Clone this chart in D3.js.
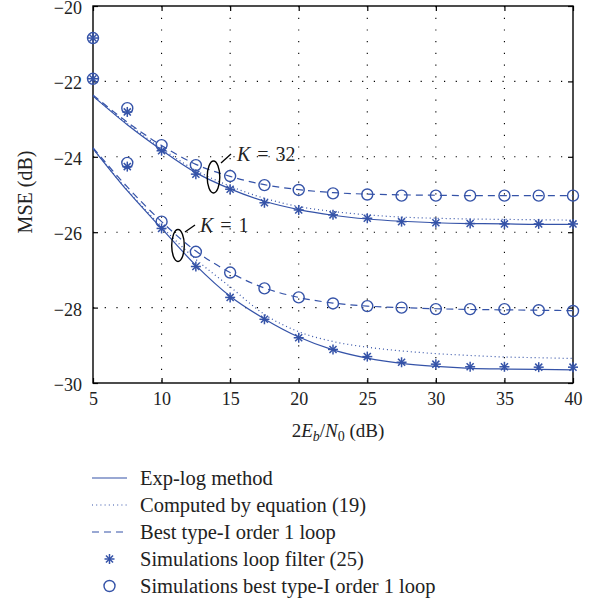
<!DOCTYPE html>
<html>
<head>
<meta charset="utf-8">
<script src="https://cdn.jsdelivr.net/npm/d3@7"></script>
<style>
  body { margin: 0; background: #fff; }
  svg text { font-family: "Liberation Serif", "DejaVu Serif", serif; fill: #222; }
</style>
</head>
<body>
<div id="chart"></div>
<script>
// values
const snr = [5, 7.5, 10, 12.5, 15, 17.5, 20, 22.5, 25, 27.5, 30, 32.5, 35, 37.5, 40];

// K = 32
const expLog32   = [-22.39, -23.15, -23.82, -24.42, -24.85, -25.18, -25.40, -25.55, -25.65, -25.71, -25.75, -25.77, -25.78, -25.79, -25.79];
const equation32 = [-22.39, -23.12, -23.78, -24.36, -24.78, -25.10, -25.32, -25.45, -25.54, -25.60, -25.63, -25.65, -25.66, -25.67, -25.68];
const bestLoop32 = [-22.36, -23.08, -23.70, -24.20, -24.52, -24.74, -24.87, -24.95, -24.99, -25.01, -25.02, -25.03, -25.03, -25.03, -25.03];
const simFilter32 = [-21.93, -22.81, -23.84, -24.46, -24.86, -25.22, -25.41, -25.54, -25.63, -25.72, -25.75, -25.77, -25.78, -25.78, -25.78];
const simBest32   = [-21.93, -22.71, -23.69, -24.22, -24.51, -24.75, -24.88, -24.97, -25.00, -25.03, -25.03, -25.03, -25.03, -25.03, -25.03];

// K = 1
const expLog1   = [-23.78, -24.90, -25.90, -26.88, -27.70, -28.30, -28.78, -29.12, -29.34, -29.48, -29.56, -29.61, -29.63, -29.64, -29.65];
const equation1 = [-23.78, -24.88, -25.85, -26.72, -27.45, -28.18, -28.64, -28.90, -29.05, -29.15, -29.22, -29.27, -29.31, -29.33, -29.35];
const bestLoop1 = [-23.76, -24.80, -25.72, -26.50, -27.07, -27.48, -27.73, -27.88, -27.96, -28.00, -28.03, -28.05, -28.06, -28.07, -28.08];
const simFilter1 = [-20.85, -24.26, -25.90, -26.91, -27.73, -28.31, -28.80, -29.11, -29.30, -29.45, -29.50, -29.57, -29.57, -29.58, -29.58];
const simBest1   = [-20.85, -24.16, -25.72, -26.52, -27.07, -27.49, -27.73, -27.89, -27.96, -28.00, -28.04, -28.04, -28.04, -28.07, -28.09];

const xTicks = [5, 10, 15, 20, 25, 30, 35, 40];
const yTicks = [-30, -28, -26, -24, -22, -20];

const legendLabels = [
  "Exp-log method",
  "Computed by equation (19)",
  "Best type-I order 1 loop",
  "Simulations loop filter (25)",
  "Simulations best type-I order 1 loop"
];

const blue = "#3553a8";
const margin = { top: 6, right: 24, bottom: 219, left: 93 };
const width = 573 - margin.left;
const height = 383 - margin.top;

const svg = d3.select("#chart").append("svg")
  .attr("width", 597).attr("height", 602)
  .append("g")
  .attr("transform", `translate(${margin.left},${margin.top})`);

const x = d3.scaleLinear().domain([5, 40]).range([0, width]);
const y = d3.scaleLinear().domain([-30, -20]).range([height, 0]);

// grid
svg.append("g").selectAll("line.gx")
  .data(xTicks.slice(1, -1)).enter().append("line")
  .attr("x1", d => x(d)).attr("x2", d => x(d))
  .attr("y1", 0).attr("y2", height)
  .style("stroke", "#000").style("stroke-width", 1.1)
  .style("stroke-dasharray", "1.2,10.5");
svg.append("g").selectAll("line.gy")
  .data(yTicks.slice(1, -1)).enter().append("line")
  .attr("y1", d => y(d)).attr("y2", d => y(d))
  .attr("x1", 0).attr("x2", width)
  .style("stroke", "#000").style("stroke-width", 1.1)
  .style("stroke-dasharray", "1.2,10.5");

// axes (ticks inward on all four sides)
const tk = 5;
svg.append("g").attr("transform", `translate(0,${height})`)
  .call(d3.axisBottom(x).tickValues(xTicks).tickSizeInner(-tk).tickSizeOuter(0).tickPadding(9))
  .call(g => g.selectAll("text").style("font-size", "18px").attr("dy", "0.72em"));
svg.append("g")
  .call(d3.axisTop(x).tickValues(xTicks).tickSizeInner(-tk).tickSizeOuter(0).tickFormat(""));
svg.append("g")
  .call(d3.axisLeft(y).tickValues(yTicks).tickSizeInner(-tk).tickSizeOuter(0).tickPadding(11)
    .tickFormat(d => d < 0 ? "\u2212" + Math.abs(d) : d))
  .call(g => g.selectAll("text").style("font-size", "18px").attr("dy", "0.42em"));
svg.append("g").attr("transform", `translate(${width},0)`)
  .call(d3.axisRight(y).tickValues(yTicks).tickSizeInner(-tk).tickSizeOuter(0).tickFormat(""));
svg.selectAll(".domain").remove();
svg.selectAll(".tick line").style("stroke", "#000").style("stroke-width", 1.2);
svg.append("rect").attr("width", width).attr("height", height)
  .style("fill", "none").style("stroke", "#000").style("stroke-width", 1.4);

// lines
const line = d3.line().x(d => x(d[0])).y(d => y(d[1])).curve(d3.curveMonotoneX);
const lineSets = [
  { v: expLog32, dash: null }, { v: expLog1, dash: null },
  { v: equation32, dash: "1,3" }, { v: equation1, dash: "1,3" },
  { v: bestLoop32, dash: "7,5" }, { v: bestLoop1, dash: "7,5" }
];
svg.selectAll("path.data-line")
  .data(lineSets).enter().append("path")
  .attr("class", "data-line")
  .attr("d", d => line(snr.map((s, i) => [s, d.v[i]])))
  .style("fill", "none").style("stroke", blue).style("stroke-width", 1.2)
  .style("stroke-dasharray", d => d.dash);

// markers
function star(g, r) {
  [0, 45, 90, 135].forEach(a => {
    const rad = a * Math.PI / 180;
    g.append("line")
      .attr("x1", -r * Math.cos(rad)).attr("y1", -r * Math.sin(rad))
      .attr("x2", r * Math.cos(rad)).attr("y2", r * Math.sin(rad))
      .style("stroke", blue).style("stroke-width", 1.5);
  });
}
[simFilter32, simFilter1].forEach(vals => {
  svg.append("g").selectAll("g").data(snr).enter().append("g")
    .attr("transform", (d, i) => `translate(${x(d)},${y(vals[i])})`)
    .each(function() { star(d3.select(this), 5); });
});
[simBest32, simBest1].forEach(vals => {
  svg.append("g").selectAll("circle").data(snr).enter().append("circle")
    .attr("cx", d => x(d)).attr("cy", (d, i) => y(vals[i])).attr("r", 5.5)
    .style("fill", "none").style("stroke", blue).style("stroke-width", 1.4);
});

// K annotations
function note(cx, cy, lx1, ly1, lx2, ly2, tx, ty, label) {
  svg.append("ellipse").attr("cx", cx).attr("cy", cy).attr("rx", 6.3).attr("ry", 16)
    .style("fill", "none").style("stroke", "#000").style("stroke-width", 1.4);
  svg.append("line").attr("x1", lx1).attr("y1", ly1).attr("x2", lx2).attr("y2", ly2)
    .style("stroke", "#000").style("stroke-width", 1.3);
  const t = svg.append("text").attr("x", tx).attr("y", ty)
    .style("font-size", "20px").style("word-spacing", "2px");
  t.append("tspan").style("font-style", "italic").text("K");
  t.append("tspan").text(" = " + label);
}
note(213.5 - 93, 177 - 6, 221 - 93, 163 - 6, 231 - 93, 154 - 6, 237 - 93, 161 - 6, "32");
note(178 - 93, 245.5 - 6, 185 - 93, 232 - 6, 195 - 93, 225 - 6, 200 - 93, 232 - 6, "1");

// axis labels
const xl = svg.append("text").attr("x", 338 - 93).attr("y", 437 - 6)
  .attr("text-anchor", "middle").style("font-size", "19px");
xl.append("tspan").text("2");
xl.append("tspan").style("font-style", "italic").text("E");
xl.append("tspan").attr("baseline-shift", "-25%").style("font-size", "14px").style("font-style", "italic").text("b");
xl.append("tspan").text("/");
xl.append("tspan").style("font-style", "italic").text("N");
xl.append("tspan").attr("baseline-shift", "-25%").style("font-size", "14px").text("0");
xl.append("tspan").text(" (dB)");

svg.append("text")
  .attr("transform", "rotate(-90)")
  .attr("x", -(192 - 6)).attr("y", 32 - 93)
  .attr("text-anchor", "middle").style("font-size", "20px")
  .text("MSE (dB)");

// legend
const legend = d3.select("svg").append("g");
const rows = legend.selectAll("g").data(legendLabels).enter().append("g")
  .attr("transform", (d, i) => `translate(0, ${478 + i * 27})`);
rows.append("text").attr("x", 140).attr("y", 0).attr("dy", "0.35em")
  .style("font-size", "20.5px").text(d => d);
rows.filter((d, i) => i < 3).append("line")
  .attr("x1", 92).attr("x2", 127).attr("y1", 0).attr("y2", 0)
  .style("stroke", blue).style("stroke-width", 1.2)
  .style("stroke-dasharray", (d, i) => [null, "1,3.2", "7,5"][i]);
rows.filter((d, i) => i === 3).append("g").attr("transform", "translate(109.5,0)")
  .each(function() { star(d3.select(this), 5); });
rows.filter((d, i) => i === 4).append("circle")
  .attr("cx", 109.5).attr("cy", 0).attr("r", 5.5)
  .style("fill", "none").style("stroke", blue).style("stroke-width", 1.4);
</script>
</body>
</html>
